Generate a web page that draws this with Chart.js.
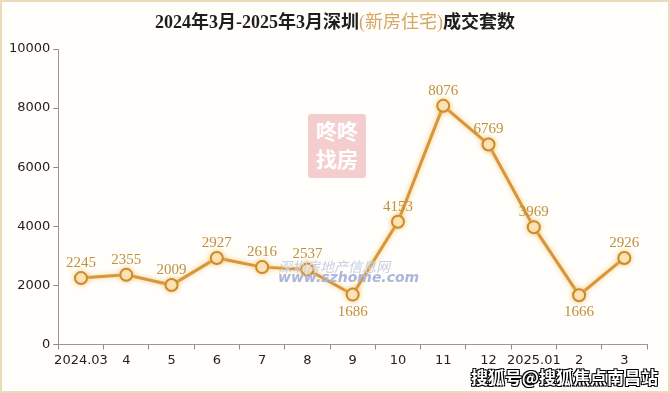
<!DOCTYPE html>
<html>
<head>
<meta charset="utf-8">
<script src="https://cdn.jsdelivr.net/npm/chart.js@4/dist/chart.umd.min.js"></script>
<style>
  html, body { margin: 0; padding: 0; background: #fff; }
  #wrap {
    position: relative; width: 666px; height: 389px;
    border: 2px solid #e9dcbc; background: #fffefb; overflow: hidden;
  }
  #title {
    position: absolute; left: 0; right: 0; top: 5px; text-align: center;
    font-family: "Liberation Serif", "Noto Sans CJK SC", serif; font-weight: 700; font-size: 18px;
    color: #1e1e1e;
  }
  #title .hl { color: #d6a766; font-weight: 400; }
  #chart { position: absolute; left: 0; top: 0; }
  .wm { position: absolute; font-family: "Noto Sans CJK SC", sans-serif; }
  #wmBox {
    left: 306px; top: 112px; width: 58px; height: 62px; background: #f3c9c9;
    color: #fff; font-size: 21px; font-weight: 700; line-height: 28px; text-align: center;
    border-radius: 3px; padding-top: 2px; opacity: 0.9;
  }
  #wmSite { left: 276px; top: 254px; font-size: 14px; color: #c8cfe4; font-style: italic; }
  #wmUrl { left: 276px; top: 267px; font-size: 14px; color: #aab6dc; font-style: italic; font-weight: 700; font-family: "DejaVu Sans", sans-serif; }
  #wmSohu {
    right: 10px; bottom: 2px; font-size: 17px; font-weight: 700; color: #fff;
    text-shadow: -1px -1px 0 #000, 1px -1px 0 #000, -1px 1px 0 #000, 1px 1px 0 #000;
  }
</style>
</head>
<body>
<div id="wrap">
  <canvas id="chart" width="666" height="389"></canvas>
  <div id="title">2024年3月-2025年3月深圳<span class="hl">(新房住宅)</span>成交套数</div>
  <div class="wm" id="wmBox">咚咚<br>找房</div>
  <div class="wm" id="wmSite">深圳房地产信息网</div>
  <div class="wm" id="wmUrl">www.szhome.com</div>
  <div class="wm" id="wmSohu">搜狐号@搜狐焦点南昌站</div>
</div>
<script>
// months on the x axis
const months = ['2024.03', '4', '5', '6', '7', '8', '9', '10', '11', '12', '2025.01', '2', '3'];
// new-home transactions (units)
const sales = [2245, 2355, 2009, 2927, 2616, 2537, 1686, 4153, 8076, 6769, 3969, 1666, 2926];
// labels that sit under their point
const labelsBelow = [6, 11];

const lineColor = '#d6973c';
const tickFont = { family: 'Tahoma, "DejaVu Sans", sans-serif', size: 13 };

// soft glow under the line
const glowPlugin = {
    id: 'glow',
    beforeDatasetsDraw(chart) {
        chart.ctx.save();
        chart.ctx.shadowColor = 'rgba(245,190,90,0.8)';
        chart.ctx.shadowBlur = 5;
    },
    afterDatasetsDraw(chart) {
        chart.ctx.restore();
    }
};

// value labels next to each point
const valueLabels = {
    id: 'valueLabels',
    afterDatasetsDraw(chart) {
        const ctx = chart.ctx;
        const meta = chart.getDatasetMeta(0);
        ctx.save();
        ctx.font = '15px "Liberation Serif", "DejaVu Serif", serif';
        ctx.fillStyle = '#bf9040';
        ctx.textAlign = 'center';
        ctx.textBaseline = 'middle';
        meta.data.forEach((pt, i) => {
            const below = labelsBelow.includes(i);
            ctx.fillText(String(sales[i]), pt.x, below ? pt.y + 17 : pt.y - 15);
        });
        ctx.restore();
    }
};

new Chart(document.getElementById('chart'), {
    type: 'line',
    data: {
        labels: months,
        datasets: [{
            data: sales,
            borderColor: lineColor,
            borderWidth: 3,
            tension: 0,
            pointRadius: 6,
            pointBorderWidth: 2,
            pointBackgroundColor: '#fde9c6',
            pointBorderColor: '#c98a30'
        }]
    },
    options: {
        responsive: false,
        animation: false,
        layout: { padding: { top: 47, right: 21, left: 4, bottom: 20 } },
        plugins: {
            legend: { display: false },
            tooltip: { enabled: false }
        },
        scales: {
            x: {
                offset: true,
                grid: { offset: true, drawOnChartArea: false, drawTicks: true, tickLength: 5, color: '#888' },
                border: { color: '#999' },
                ticks: { color: '#222', font: tickFont, padding: 3, autoSkip: false, maxRotation: 0 }
            },
            y: {
                min: 0,
                max: 10000,
                grid: { drawOnChartArea: false, drawTicks: true, tickLength: 5, color: '#888' },
                border: { color: '#999' },
                ticks: { stepSize: 2000, color: '#222', font: tickFont, padding: 3, callback: v => String(v) }
            }
        }
    },
    plugins: [glowPlugin, valueLabels]
});
</script>
</body>
</html>
